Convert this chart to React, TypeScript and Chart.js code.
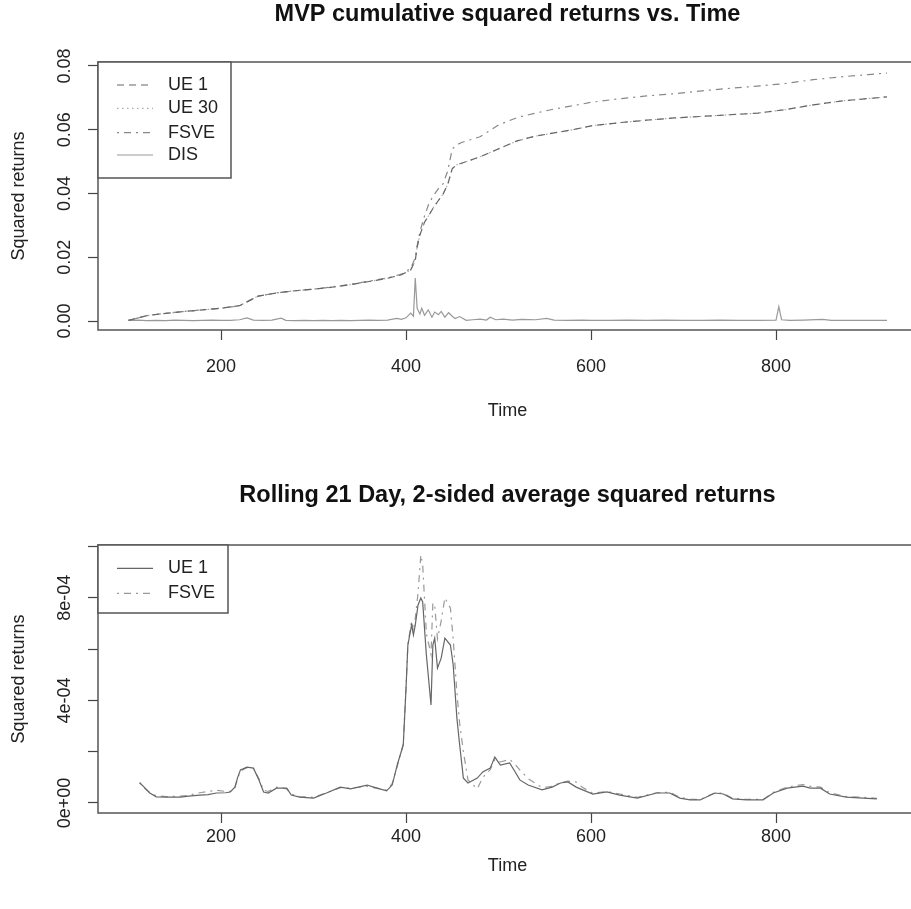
import React, { useEffect, useRef } from 'react';
import { Chart, registerables } from 'chart.js';

Chart.register(...registerables);

const FONT = '"Liberation Sans", Arial, Helvetica, sans-serif';

// ---------- Top panel: cumulative squared returns ----------
const CUM_TIME = [100, 120, 140, 160, 180, 200, 220, 228, 240, 260, 280, 300, 320, 340, 360, 380, 395, 405, 410, 412, 415, 420, 425, 430, 435, 440, 445, 450, 455, 460, 480, 500, 520, 540, 560, 580, 600, 630, 660, 690, 720, 750, 780, 810, 840, 870, 900, 920];
const UE1_CUM = [0.0002, 0.0017, 0.0024, 0.003, 0.0035, 0.004, 0.0048, 0.006, 0.0078, 0.0088, 0.0095, 0.01, 0.0106, 0.0114, 0.0124, 0.0134, 0.0145, 0.016, 0.019, 0.0232, 0.027, 0.031, 0.0333, 0.0358, 0.0378, 0.0398, 0.0428, 0.0478, 0.049, 0.0495, 0.0515, 0.054, 0.0565, 0.058, 0.059, 0.06, 0.0612, 0.0622, 0.063, 0.0637, 0.0642, 0.0647, 0.0652, 0.0663, 0.0678, 0.069, 0.0698, 0.0703];
const UE30_CUM = [0.0002, 0.0017, 0.0024, 0.003, 0.0035, 0.004, 0.0048, 0.006, 0.0078, 0.0088, 0.0095, 0.01, 0.0106, 0.0114, 0.0124, 0.0134, 0.0145, 0.016, 0.019, 0.0232, 0.027, 0.031, 0.0333, 0.0358, 0.0378, 0.0398, 0.0428, 0.0478, 0.049, 0.0495, 0.0515, 0.054, 0.0565, 0.058, 0.059, 0.06, 0.0612, 0.0622, 0.063, 0.0637, 0.0642, 0.0647, 0.0652, 0.0663, 0.0678, 0.069, 0.0698, 0.0703];
const FSVE_CUM = [0.0002, 0.0017, 0.0024, 0.003, 0.0035, 0.004, 0.0048, 0.006, 0.0078, 0.0088, 0.0095, 0.01, 0.0107, 0.0115, 0.0125, 0.0135, 0.0147, 0.0165, 0.0198, 0.0235, 0.028, 0.033, 0.037, 0.0395, 0.0415, 0.043, 0.047, 0.054, 0.0553, 0.056, 0.0578, 0.0615, 0.0638, 0.0652, 0.0665, 0.0675, 0.0686, 0.0697, 0.0706, 0.0713, 0.0722, 0.073, 0.0737, 0.0745, 0.0757, 0.0766, 0.0773, 0.0778];

const DIS_TIME = [100, 110, 120, 130, 140, 150, 160, 170, 180, 190, 200, 210, 220, 228, 235, 245, 255, 265, 270, 280, 290, 300, 310, 320, 330, 340, 350, 360, 370, 380, 390, 395, 400, 405, 408, 410, 412, 415, 417, 420, 424, 428, 431, 435, 438, 442, 446, 450, 453, 458, 465, 472, 480, 487, 491, 497, 505, 515, 525, 540, 552, 560, 575, 590, 600, 620, 640, 660, 680, 700, 720, 740, 760, 780, 800, 803, 806, 815, 830, 850, 860, 880, 900, 920];
const DIS_SQ = [0.0002, 0.0003, 0.0001, 0.0002, 0.0001, 0.0003, 0.0002, 0.0001, 0.0002, 0.0003, 0.0002, 0.0002, 0.0004, 0.001, 0.0003, 0.0002, 0.0003, 0.0009, 0.0002, 0.0001, 0.0002, 0.0001, 0.0002, 0.0001, 0.0002, 0.0001, 0.0002, 0.0003, 0.0002, 0.0003, 0.0008, 0.0005, 0.001, 0.0025, 0.0015, 0.0135, 0.004, 0.0022, 0.004, 0.0018, 0.0035, 0.0012, 0.0028, 0.002, 0.003, 0.0012, 0.0026, 0.0015, 0.0008, 0.0014, 0.0002, 0.0004, 0.0006, 0.0003, 0.0012, 0.0004, 0.0006, 0.0003, 0.0005, 0.0004, 0.0008, 0.0003, 0.0002, 0.0003, 0.0002, 0.0002, 0.0003, 0.0002, 0.0003, 0.0002, 0.0002, 0.0003, 0.0002, 0.0002, 0.0003, 0.0045, 0.0004, 0.0002, 0.0003, 0.0005, 0.0002, 0.0002, 0.0002, 0.0002];

const TOP_SERIES = ['UE 1', 'UE 30', 'FSVE', 'DIS'];
const CUM_Y_TICKS = [0, 0.02, 0.04, 0.06, 0.08];
const CUM_Y_LABELS = ['0.00', '0.02', '0.04', '0.06', '0.08'];

// ---------- Bottom panel: rolling 21-day average ----------
const ROLL_TIME = [112, 118, 123, 130, 141, 156, 165, 177, 186, 195, 205, 210, 215, 218, 221, 228, 235, 241, 246, 251, 260, 271, 276, 285, 300, 314, 329, 340, 358, 365, 379, 385, 391, 397, 400, 402, 406, 408, 410, 413, 416, 418, 422, 427, 429, 431, 434, 438, 442, 448, 451, 455, 458, 462, 467, 477, 483, 491, 496, 502, 512, 518, 523, 532, 547, 558, 567, 575, 584, 591, 602, 617, 631, 650, 671, 685, 696, 707, 718, 734, 743, 753, 768, 786, 797, 812, 829, 837, 848, 858, 876, 894, 909];
const UE1_ROLL = [0.79e-4, 0.58e-4, 0.39e-4, 0.24e-4, 0.23e-4, 0.23e-4, 0.27e-4, 0.31e-4, 0.33e-4, 0.39e-4, 0.4e-4, 0.43e-4, 0.62e-4, 1.0e-4, 1.29e-4, 1.4e-4, 1.36e-4, 0.9e-4, 0.43e-4, 0.39e-4, 0.58e-4, 0.58e-4, 0.31e-4, 0.23e-4, 0.19e-4, 0.39e-4, 0.62e-4, 0.55e-4, 0.7e-4, 0.62e-4, 0.47e-4, 0.7e-4, 1.55e-4, 2.26e-4, 4.48e-4, 6.16e-4, 6.94e-4, 6.55e-4, 6.94e-4, 7.72e-4, 7.99e-4, 7.84e-4, 5.77e-4, 3.82e-4, 6.16e-4, 6.43e-4, 5.26e-4, 5.65e-4, 6.43e-4, 6.16e-4, 5.38e-4, 3.31e-4, 2.26e-4, 0.97e-4, 0.78e-4, 0.97e-4, 1.21e-4, 1.36e-4, 1.79e-4, 1.48e-4, 1.56e-4, 1.21e-4, 0.9e-4, 0.7e-4, 0.51e-4, 0.62e-4, 0.78e-4, 0.82e-4, 0.62e-4, 0.51e-4, 0.35e-4, 0.43e-4, 0.31e-4, 0.19e-4, 0.39e-4, 0.39e-4, 0.19e-4, 0.12e-4, 0.12e-4, 0.39e-4, 0.35e-4, 0.16e-4, 0.12e-4, 0.12e-4, 0.39e-4, 0.58e-4, 0.66e-4, 0.58e-4, 0.58e-4, 0.35e-4, 0.23e-4, 0.19e-4, 0.16e-4];
const FSVE_ROLL = [0.79e-4, 0.55e-4, 0.4e-4, 0.28e-4, 0.25e-4, 0.27e-4, 0.3e-4, 0.4e-4, 0.45e-4, 0.5e-4, 0.45e-4, 0.45e-4, 0.6e-4, 0.95e-4, 1.25e-4, 1.38e-4, 1.35e-4, 0.95e-4, 0.5e-4, 0.45e-4, 0.62e-4, 0.55e-4, 0.35e-4, 0.25e-4, 0.22e-4, 0.4e-4, 0.6e-4, 0.58e-4, 0.65e-4, 0.6e-4, 0.5e-4, 0.75e-4, 1.5e-4, 2.3e-4, 4.5e-4, 6.2e-4, 7.1e-4, 6.7e-4, 7.2e-4, 8.2e-4, 9.67e-4, 9.3e-4, 6.6e-4, 5.8e-4, 7.8e-4, 7.7e-4, 6.4e-4, 7.1e-4, 8.0e-4, 7.6e-4, 6.4e-4, 4.3e-4, 3.1e-4, 2.0e-4, 0.9e-4, 0.55e-4, 1.0e-4, 1.3e-4, 1.7e-4, 1.6e-4, 1.7e-4, 1.5e-4, 1.29e-4, 0.95e-4, 0.6e-4, 0.65e-4, 0.8e-4, 0.85e-4, 0.82e-4, 0.6e-4, 0.38e-4, 0.45e-4, 0.35e-4, 0.22e-4, 0.4e-4, 0.42e-4, 0.22e-4, 0.15e-4, 0.14e-4, 0.4e-4, 0.38e-4, 0.18e-4, 0.14e-4, 0.14e-4, 0.42e-4, 0.62e-4, 0.72e-4, 0.65e-4, 0.62e-4, 0.4e-4, 0.25e-4, 0.22e-4, 0.18e-4];

const BOTTOM_SERIES = ['UE 1', 'FSVE'];
const ROLL_Y_TICKS = [0, 2e-4, 4e-4, 6e-4, 8e-4, 1e-3];
const ROLL_Y_LABELS = ['0e+00', '', '4e-04', '', '8e-04', ''];

const X_TICKS = [200, 400, 600, 800];

const pts = (xs: number[], ys: number[]) => xs.map((x, i) => ({ x, y: ys[i] }));

type LegendSpec = { w: number; h: number; rows: number[] };

function framePlugin(legend: LegendSpec) {
  return {
    id: 'rframe',
    afterDraw(chart: any) {
      const { ctx, chartArea } = chart;
      const { left, top, right, bottom } = chartArea;
      ctx.save();
      ctx.setLineDash([]);
      ctx.strokeStyle = '#555';
      ctx.lineWidth = 1.5;
      ctx.strokeRect(left, top, right - left, bottom - top);
      // legend box
      ctx.fillStyle = '#fff';
      ctx.fillRect(left, top, legend.w, legend.h);
      ctx.strokeRect(left, top, legend.w, legend.h);
      chart.data.datasets.forEach((ds: any, i: number) => {
        const y = top + legend.rows[i];
        ctx.save();
        ctx.strokeStyle = ds.borderColor;
        ctx.lineWidth = ds.borderWidth || 1.2;
        ctx.setLineDash(ds.borderDash || []);
        ctx.beginPath();
        ctx.moveTo(left + 19, y);
        ctx.lineTo(left + 55, y);
        ctx.stroke();
        ctx.restore();
        ctx.fillStyle = '#222';
        ctx.font = `18px ${FONT}`;
        ctx.textAlign = 'left';
        ctx.textBaseline = 'middle';
        ctx.fillText(ds.label, left + 70, y);
      });
      ctx.restore();
    },
  };
}

type PanelOpts = {
  title: string;
  datasets: any[];
  yMin: number;
  yMax: number;
  yTicks: number[];
  yLabels: string[];
  yTickPad: number;
  titlePad: { top: number; bottom: number };
  xHeight: number;
  xTickPad: number;
  xTitlePad: number;
  legend: LegendSpec;
};

function buildConfig(o: PanelOpts): any {
  const tickFont = { family: FONT, size: 18 };
  return {
    type: 'line',
    data: { datasets: o.datasets },
    options: {
      responsive: false,
      animation: false,
      devicePixelRatio: 1,
      layout: { padding: { left: 0, right: 3, top: 0, bottom: 0 } },
      plugins: {
        legend: { display: false },
        tooltip: { enabled: false },
        title: {
          display: true,
          text: o.title,
          fullSize: false,
          color: '#111',
          font: { family: FONT, size: 23.5, weight: 'bold', lineHeight: 1.2 },
          padding: o.titlePad,
        },
      },
      elements: { point: { radius: 0 }, line: { tension: 0 } },
      scales: {
        x: {
          type: 'linear',
          min: 67,
          max: 952.4,
          afterBuildTicks: (s: any) => {
            s.ticks = X_TICKS.map((v) => ({ value: v }));
          },
          afterFit: (s: any) => {
            s.height = o.xHeight;
          },
          ticks: {
            font: tickFont,
            color: '#222',
            padding: o.xTickPad,
            autoSkip: false,
            maxRotation: 0,
            minRotation: 0,
            callback: (v: number) => String(v),
          },
          grid: { display: true, drawOnChartArea: false, drawTicks: true, tickLength: 10, tickColor: '#444', tickWidth: 1.2 },
          border: { display: false },
          title: { display: true, text: 'Time', font: tickFont, color: '#222', padding: { top: 0, bottom: o.xTitlePad } },
        },
        y: {
          type: 'linear',
          min: o.yMin,
          max: o.yMax,
          afterBuildTicks: (s: any) => {
            s.ticks = o.yTicks.map((v) => ({ value: v }));
          },
          afterFit: (s: any) => {
            s.width = 98;
          },
          ticks: {
            font: tickFont,
            color: '#222',
            padding: o.yTickPad,
            autoSkip: false,
            minRotation: 90,
            maxRotation: 90,
            crossAlign: 'center',
            callback: (_v: number, i: number) => o.yLabels[i],
          },
          grid: { display: true, drawOnChartArea: false, drawTicks: true, tickLength: 10, tickColor: '#444', tickWidth: 1.2 },
          border: { display: false },
          title: { display: true, text: 'Squared returns', font: tickFont, color: '#222', padding: { top: 8, bottom: 0 } },
        },
      },
    },
    plugins: [framePlugin(o.legend)],
  };
}

function Panel({ config, top, height }: { config: any; top: number; height: number }) {
  const ref = useRef<HTMLCanvasElement | null>(null);
  useEffect(() => {
    if (!ref.current) return;
    const chart = new Chart(ref.current, config);
    return () => chart.destroy();
  }, [config]);
  return (
    <canvas
      ref={ref}
      width={920}
      height={height}
      style={{ position: 'absolute', left: 0, top, width: 920, height }}
    />
  );
}

const topConfig = buildConfig({
  title: 'MVP cumulative squared returns vs. Time',
  datasets: [
    { label: TOP_SERIES[0], data: pts(CUM_TIME, UE1_CUM), borderColor: '#666', borderWidth: 1.2, borderDash: [7, 5] },
    { label: TOP_SERIES[1], data: pts(CUM_TIME, UE30_CUM), borderColor: '#aaa', borderWidth: 1.2, borderDash: [1.5, 3.5] },
    { label: TOP_SERIES[2], data: pts(CUM_TIME, FSVE_CUM), borderColor: '#888', borderWidth: 1.2, borderDash: [2, 5, 7, 5] },
    { label: TOP_SERIES[3], data: pts(DIS_TIME, DIS_SQ), borderColor: '#999', borderWidth: 1.2, borderDash: [] },
  ],
  yMin: -0.00282,
  yMax: 0.08125,
  yTicks: CUM_Y_TICKS,
  yLabels: CUM_Y_LABELS,
  yTickPad: 5.5,
  titlePad: { top: 0, bottom: 33.8 },
  xHeight: 125,
  xTickPad: 16.2,
  xTitlePad: 33.2,
  legend: { w: 133, h: 116, rows: [23, 46.3, 70.7, 93] },
});

const bottomConfig = buildConfig({
  title: 'Rolling 21 Day, 2-sided average squared returns',
  datasets: [
    { label: BOTTOM_SERIES[0], data: pts(ROLL_TIME, UE1_ROLL), borderColor: '#666', borderWidth: 1.2, borderDash: [] },
    { label: BOTTOM_SERIES[1], data: pts(ROLL_TIME, FSVE_ROLL), borderColor: '#999', borderWidth: 1.2, borderDash: [2, 5, 7, 5] },
  ],
  yMin: -0.39e-4,
  yMax: 10.06e-4,
  yTicks: ROLL_Y_TICKS,
  yLabels: ROLL_Y_LABELS,
  yTickPad: -2.3,
  titlePad: { top: 26.9, bottom: 34.9 },
  xHeight: 96,
  xTickPad: 3.2,
  xTitlePad: 32.2,
  legend: { w: 130, h: 68, rows: [23.3, 48.3] },
});

export default function App() {
  return (
    <div
      style={{
        position: 'fixed',
        left: 0,
        top: 0,
        width: 911,
        height: 909,
        overflow: 'hidden',
        background: '#fff',
      }}
    >
      <Panel config={topConfig} top={0} height={455} />
      <Panel config={bottomConfig} top={455} height={454} />
    </div>
  );
}
